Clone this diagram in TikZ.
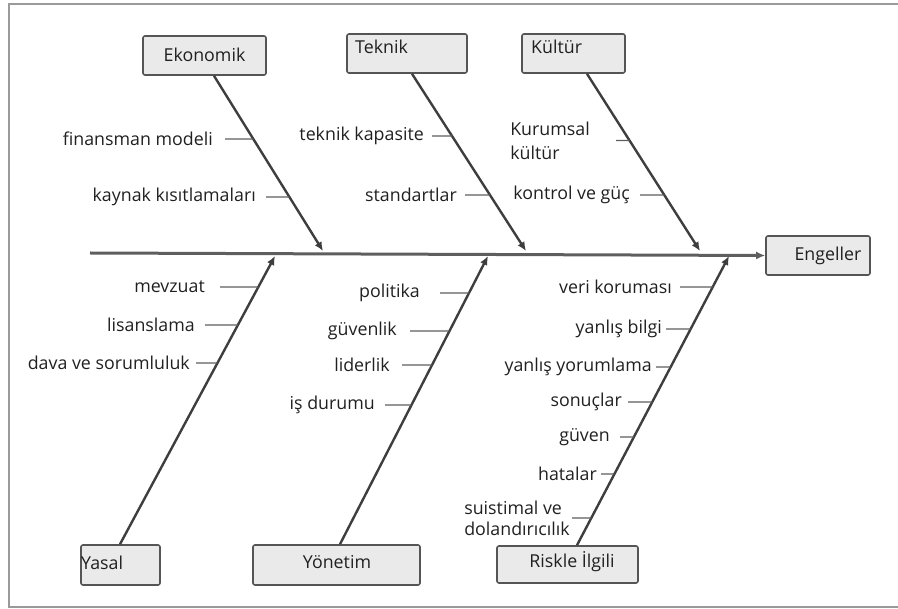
\documentclass[tikz,border=0pt]{standalone}
\usepackage{fontspec}
\setmainfont{Open Sans}
\usetikzlibrary{arrows.meta,intersections,calc}

\definecolor{bonecol}{HTML}{3E3E3E}
\definecolor{ribcol}{HTML}{5E5E5E}
\definecolor{boxfill}{HTML}{EAEAEA}
\definecolor{boxline}{HTML}{555555}
\definecolor{framecol}{HTML}{9A9A9A}
\definecolor{txtcol}{HTML}{202020}

\tikzset{
  catbox/.style={draw=boxline, fill=boxfill, line width=1.6pt, rounded corners=2pt, inner sep=0pt},
  lbl/.style={font=\fontsize{17.8}{21}\selectfont, text=txtcol, inner sep=0pt, align=left},
  bone/.style={draw=bonecol, line width=2.4pt, -{Latex[length=9pt,width=8pt]}},
  spine/.style={draw=ribcol, line width=3pt, -{Latex[length=9pt,width=8pt]}},
  rib/.style={draw=ribcol, line width=1.4pt},
}

% one cause: label set against a right edge, with its rib running to the bone
\newcommand\cause[6]{%
  \node[lbl, anchor=east] (#1) at (#3,#4) {#6};
  \path[name path=#1p] (#1.east) -- ++(260,0);
  \draw[rib, name intersections={of=#2 and #1p, by=#1x}] ([xshift=#5]#1.east) -- (#1x);
}

\begin{document}
\begin{tikzpicture}[x=1pt, y=-1pt]
\useasboundingbox (0,0) rectangle (898,609);

% outer frame
\draw[framecol, line width=2pt] (898,4.5) -- (9,4.5) -- (9,607) -- (898,607);

% effect box and spine
\node[catbox, minimum width=104pt, minimum height=39pt] (eng) at (818,255.5) {};
\node[lbl] (engT) at (828,256) {Engeller};
\coordinate (tail) at (90,253);
\draw[spine] (tail) -- (eng.west);

% category boxes
\node[catbox, minimum width=123pt, minimum height=39pt] (eko) at (204.5,55.5) {};
\node[lbl] (ekoT) at (204.5,55) {Ekonomik};
\node[catbox, minimum width=120pt, minimum height=39pt] (tek) at (407,53.5) {};
\node[lbl, anchor=west] (tekT) at (355,47) {Teknik};
\node[catbox, minimum width=103pt, minimum height=39pt] (kul) at (573.5,53.5) {};
\node[lbl, anchor=west] (kulT) at (531,47) {Kültür};
\node[catbox, minimum width=79pt, minimum height=40pt] (yas) at (120.5,565) {};
\node[lbl, anchor=west] (yasT) at (81,563) {Yasal};
\node[catbox, minimum width=167pt, minimum height=40pt] (yon) at (336.5,565) {};
\node[lbl] (yonT) at (337,562) {Yönetim};
\node[catbox, minimum width=141pt, minimum height=37pt] (ris) at (567.5,564.5) {};
\node[lbl] (risT) at (572,562) {Riskle İlgili};

% where the bones meet the spine
\coordinate (ekoEnd) at (323,251);
\coordinate (tekEnd) at (526,251);
\coordinate (kulEnd) at (700,251);
\coordinate (yasEnd) at (275,256);
\coordinate (yonEnd) at (488,256);
\coordinate (risEnd) at (729,256);

% bones
\draw[bone, name path=bEko] ([xshift=9.5pt]eko.south) -- (ekoEnd);
\draw[bone, name path=bTek] ([xshift=5pt]tek.south) -- (tekEnd);
\draw[bone, name path=bKul] ([xshift=13.5pt]kul.south) -- (kulEnd);
\draw[bone, name path=bYas] ([xshift=-0.5pt]yas.north) -- (yasEnd);
\draw[bone, name path=bYon] ([xshift=3.5pt]yon.north) -- (yonEnd);
\draw[bone, name path=bRis] ([xshift=9.5pt]ris.north) -- (risEnd);

% causes: Ekonomik
\cause{c1}{bEko}{213}{139}{12pt}{finansman modeli}
\cause{c2}{bEko}{256}{197}{10pt}{kaynak kısıtlamaları}
% Teknik
\cause{c3}{bTek}{424}{136}{8pt}{teknik kapasite}
\cause{c4}{bTek}{457}{195}{8pt}{standartlar}
% Kültür
\cause{c5}{bKul}{590}{140.5}{26pt}{Kurumsal\\[3pt] kültür}
\cause{c6}{bKul}{630}{195}{10pt}{kontrol ve güç}
% Yasal
\cause{c7}{bYas}{205}{287}{15pt}{mevzuat}
\cause{c8}{bYas}{195}{325}{10pt}{lisanslama}
\cause{c9}{bYas}{190}{363}{6pt}{dava ve sorumluluk}
% Yönetim
\cause{c10}{bYon}{420}{293}{20pt}{politika}
\cause{c11}{bYon}{397}{331}{13pt}{güvenlik}
\cause{c12}{bYon}{390}{365}{12pt}{liderlik}
\cause{c13}{bYon}{375}{405}{10pt}{iş durumu}
% Riskle İlgili
\cause{c14}{bRis}{672}{287}{8pt}{veri koruması}
\cause{c15}{bRis}{662}{329}{4pt}{yanlış bilgi}
\cause{c16}{bRis}{652}{367}{4pt}{yanlış yorumlama}
\cause{c17}{bRis}{622}{402}{6pt}{sonuçlar}
\cause{c18}{bRis}{610}{437}{10pt}{güven}
\cause{c19}{bRis}{597}{474}{4pt}{hatalar}
\cause{c20}{bRis}{570}{518}{2pt}{suistimal ve\\ dolandırıcılık}

\end{tikzpicture}
\end{document}
